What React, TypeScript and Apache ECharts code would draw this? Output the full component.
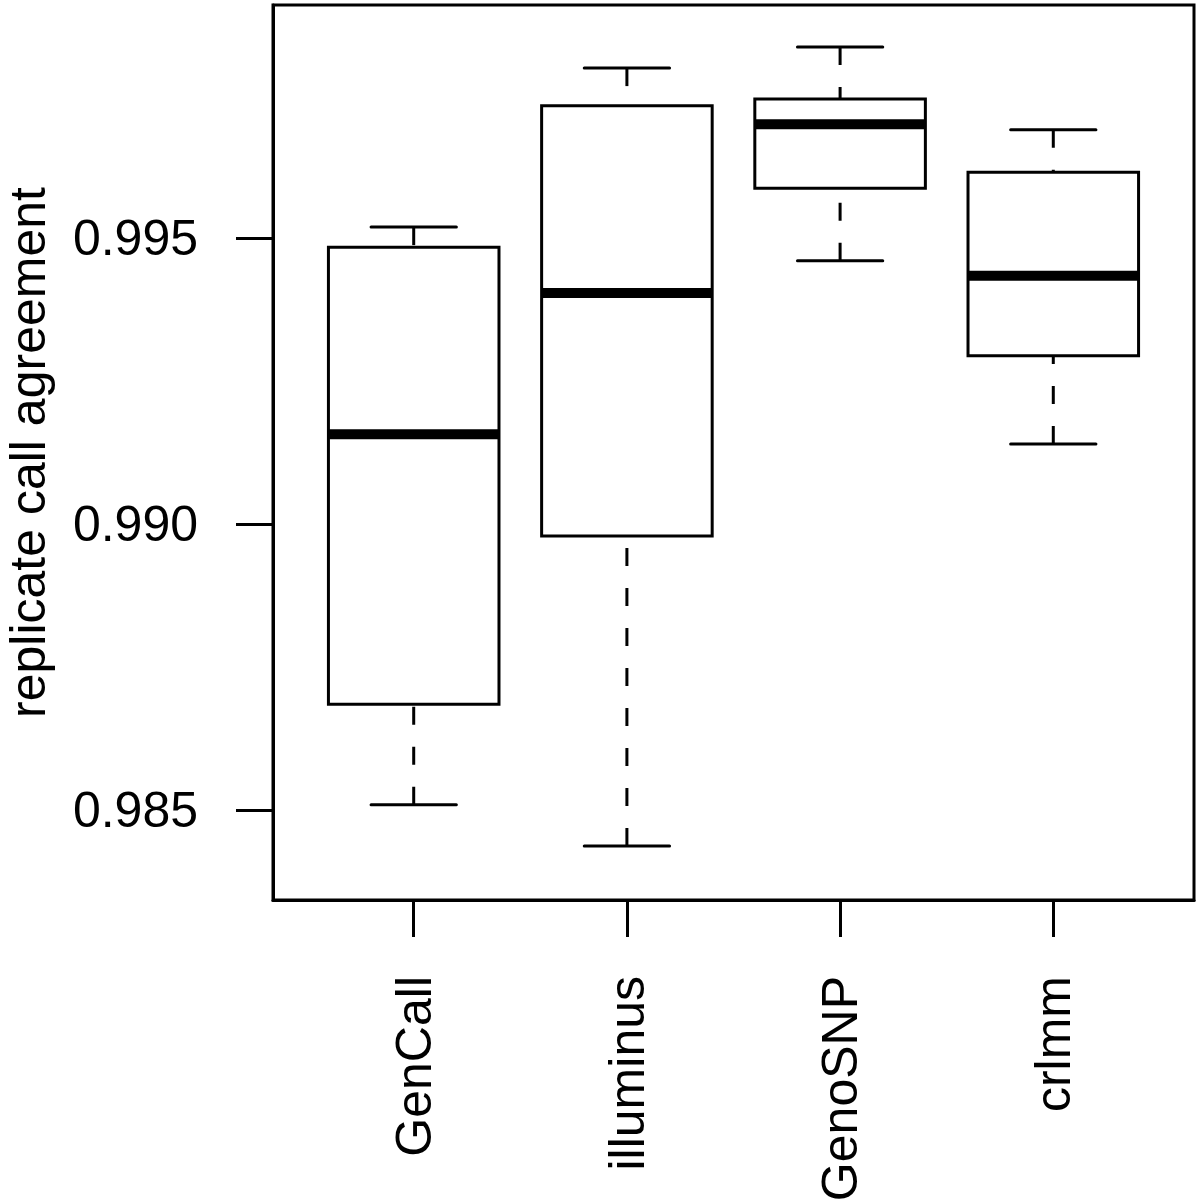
import React, { useEffect, useRef } from "react";
import * as echarts from "echarts";

const categories = ["GenCall", "illuminus", "GenoSNP", "crlmm"];
const whiskerLow = [0.98509, 0.98437, 0.9946, 0.9914];
const quartile1 = [0.98685, 0.98979, 0.99587, 0.99294];
const medians = [0.99157, 0.99404, 0.99699, 0.99434];
const quartile3 = [0.99484, 0.99731, 0.99743, 0.99615];
const whiskerHigh = [0.99519, 0.99797, 0.99834, 0.99689];
const yTicks = [0.985, 0.99, 0.995];
const xTicks = [1, 2, 3, 4];

const FONT = "Liberation Sans, Arial, Helvetica, sans-serif";

export default function App() {
  const ref = useRef<HTMLDivElement>(null);
  useEffect(() => {
    if (!ref.current) return;
    const chart = echarts.init(ref.current, null, { renderer: "svg" });
    const data = categories.map((_, i) => [
      i + 1,
      whiskerLow[i],
      quartile1[i],
      medians[i],
      quartile3[i],
      whiskerHigh[i],
    ]);
    const option: any = {
      animation: false,
      backgroundColor: "#fff",
      grid: {
        left: 273,
        right: 6,
        top: 5,
        bottom: 300,
        containLabel: false,
        outerBoundsMode: "none",
        show: true,
        borderColor: "#000",
        borderWidth: 3,
        backgroundColor: "transparent",
      },
      xAxis: {
        type: "value",
        min: 0.34,
        max: 4.66,
        splitLine: { show: false },
        axisLine: { show: true, onZero: false, lineStyle: { color: "#000", width: 3 } },
        axisTick: {
          show: true,
          customValues: xTicks,
          length: 37,
          inside: false,
          lineStyle: { color: "#000", width: 3 },
        },
        axisLabel: {
          show: true,
          customValues: xTicks,
          formatter: (v: number) => categories[Math.round(v) - 1] ?? "",
          rotate: 90,
          margin: 76,
          fontSize: 50,
          fontFamily: FONT,
          color: "#000",
        },
      },
      yAxis: {
        type: "value",
        min: 0.983427,
        max: 0.999073,
        name: "replicate call agreement",
        nameLocation: "middle",
        nameGap: 220,
        nameTextStyle: { fontSize: 50, lineHeight: 50, fontFamily: FONT, color: "#000" },
        splitLine: { show: false },
        axisLine: { show: true, onZero: false, lineStyle: { color: "#000", width: 3 } },
        axisTick: {
          show: true,
          customValues: yTicks,
          length: 37,
          inside: false,
          lineStyle: { color: "#000", width: 3 },
        },
        axisLabel: {
          show: true,
          customValues: yTicks,
          formatter: (v: number) => v.toFixed(3),
          margin: 75,
          fontSize: 50,
          fontFamily: FONT,
          color: "#000",
        },
      },
      series: [
        {
          type: "custom",
          data,
          encode: { x: 0, y: [1, 2, 3, 4, 5] },
          renderItem: (_params: any, api: any) => {
            const x = api.value(0);
            const lo = api.value(1);
            const q1 = api.value(2);
            const med = api.value(3);
            const q3 = api.value(4);
            const hi = api.value(5);
            const c = (dx: number, v: number) => api.coord([x + dx, v]);
            const [cx, yLo] = c(0, lo);
            const [, yHi] = c(0, hi);
            const [xl, yQ1] = c(-0.4, q1);
            const [xr, yQ3] = c(0.4, q3);
            const [, yMed] = c(0, med);
            const [capL] = c(-0.2, lo);
            const [capR] = c(0.2, lo);
            const solid = { stroke: "#000", lineWidth: 3, fill: null };
            const dashed = { stroke: "#000", lineWidth: 3, lineDash: [18, 22], fill: null };
            return {
              type: "group",
              children: [
                { type: "line", shape: { x1: cx, y1: yLo, x2: cx, y2: yQ1 }, style: dashed },
                { type: "line", shape: { x1: cx, y1: yHi, x2: cx, y2: yQ3 }, style: dashed },
                { type: "line", shape: { x1: capL, y1: yLo, x2: capR, y2: yLo }, style: { ...solid, lineCap: "round" } },
                { type: "line", shape: { x1: capL, y1: yHi, x2: capR, y2: yHi }, style: { ...solid, lineCap: "round" } },
                {
                  type: "rect",
                  shape: { x: xl, y: yQ3, width: xr - xl, height: yQ1 - yQ3 },
                  style: { stroke: "#000", lineWidth: 3, fill: "#fff" },
                },
                { type: "line", shape: { x1: xl, y1: yMed, x2: xr, y2: yMed }, style: { stroke: "#000", lineWidth: 10 } },
              ],
            };
          },
        },
      ],
    };
    chart.setOption(option);
    return () => chart.dispose();
  }, []);
  return (
    <div
      ref={ref}
      style={{ position: "fixed", left: 0, top: 0, width: 1200, height: 1200, background: "#fff" }}
    />
  );
}
